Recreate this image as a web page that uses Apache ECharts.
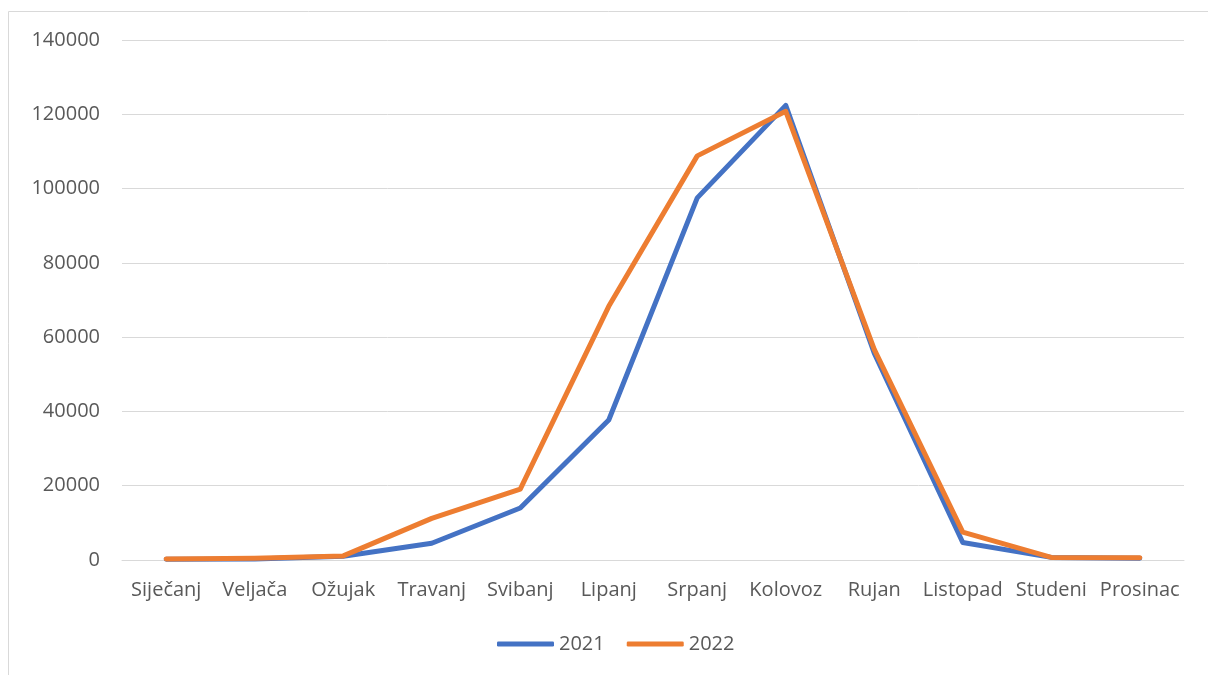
<!DOCTYPE html>
<html>
<head>
<meta charset="utf-8">
<script src="https://cdn.jsdelivr.net/npm/echarts@6/dist/echarts.min.js"></script>
<style>html,body{margin:0;padding:0;background:#fff;}#c{width:1208px;height:675px;}</style>
</head>
<body>
<div id="c"></div>
<script>
const categories = ['Siječanj','Veljača','Ožujak','Travanj','Svibanj','Lipanj','Srpanj','Kolovoz','Rujan','Listopad','Studeni','Prosinac'];
const values2021 = [200, 300, 1000, 4500, 14000, 37700, 97500, 122400, 55700, 4700, 700, 500];
const values2022 = [300, 500, 1100, 11200, 19100, 68300, 108800, 120800, 56700, 7500, 700, 600];
const seriesNames = ['2021', '2022'];
const colors = ['#4472C4', '#ED7D31'];

const chart = echarts.init(document.getElementById('c'));
const font = '"Open Sans", sans-serif';
chart.setOption({
  animation: false,
  textStyle: {fontFamily: font},
  graphic: [{
    type: 'rect', shape: {x: 8.5, y: 11.5, width: 1300, height: 800},
    style: {fill: 'none', stroke: '#D9D9D9', lineWidth: 1}, silent: true
  }],
  grid: {left: 122, right: 24, top: 40, bottom: 115},
  legend: {
    bottom: 16, left: 492, itemWidth: 57, itemHeight: 5, itemGap: 22,
    icon: 'roundRect',
    textStyle: {fontSize: 20, color: '#595959', fontFamily: font, padding: [0,0,0,0]},
    data: seriesNames
  },
  xAxis: {
    type: 'category', data: categories, boundaryGap: true,
    axisLine: {show: true, lineStyle: {color: '#D9D9D9', width: 1}},
    axisTick: {show: false},
    axisLabel: {fontSize: 20, color: '#595959', margin: 20, interval: 0, fontFamily: font}
  },
  yAxis: {
    type: 'value', min: 0, max: 140000, interval: 20000,
    axisLine: {show: false}, axisTick: {show: false},
    splitLine: {lineStyle: {color: '#D9D9D9', width: 1}},
    axisLabel: {fontSize: 20, color: '#595959', margin: 22, fontFamily: font, formatter: v => String(v)}
  },
  series: seriesNames.map((n, i) => ({
    name: n, type: 'line', data: i === 0 ? values2021 : values2022,
    symbol: 'none', lineStyle: {width: 5, color: colors[i], cap: 'round', join: 'round'},
    itemStyle: {color: colors[i]}
  }))
});
</script>
</body>
</html>
